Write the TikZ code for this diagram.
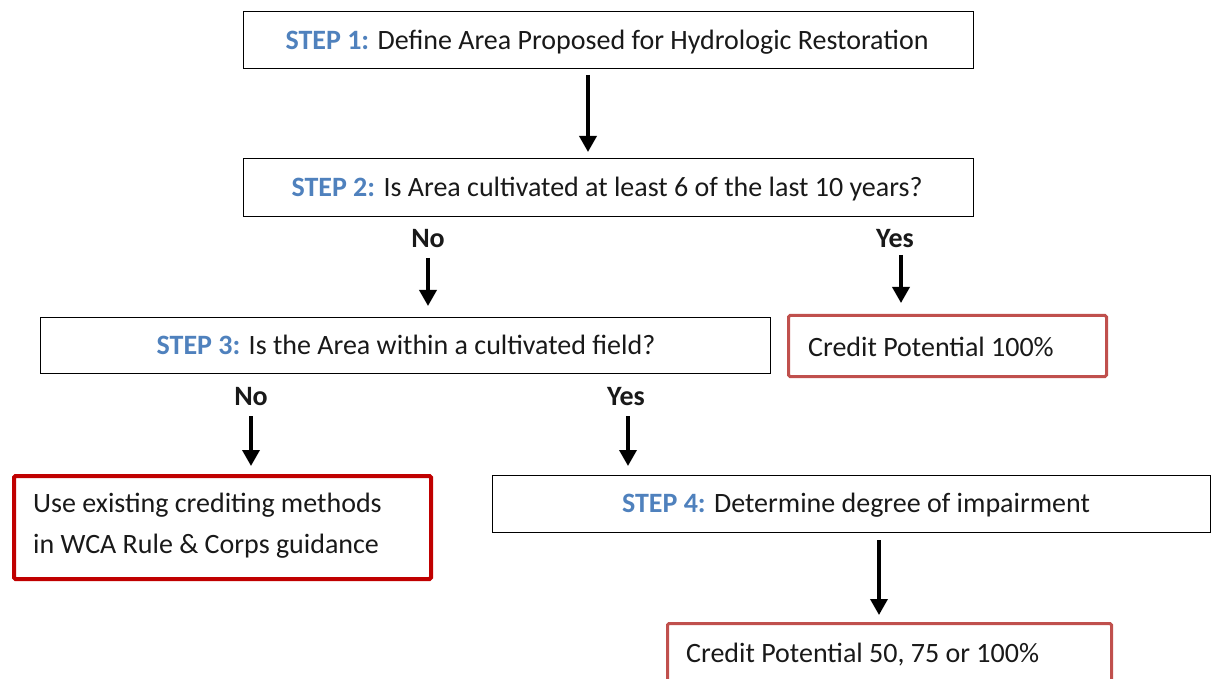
\documentclass[tikz,border=0pt]{standalone}
\usepackage{fontspec}
\setmainfont{Carlito}
\usetikzlibrary{arrows.meta}
\definecolor{stepblue}{HTML}{4F81BD}
\definecolor{softred}{HTML}{C0504D}
\definecolor{darkred}{HTML}{C00000}
\newcommand{\steplab}[1]{{\bfseries\color{stepblue}#1}}
\tikzset{
  x=1pt, y=-1pt,
  every node/.style={font=\fontsize{28}{34}\selectfont, inner sep=0pt, text=black!90},
  stepbox/.style={draw=black, line width=0.8pt, anchor=north west},
  redbox/.style={draw=softred, line width=3pt, rounded corners=1.5pt, anchor=north west},
  dredbox/.style={draw=darkred, line width=4pt, rounded corners=1.5pt, anchor=north west},
  lbl/.style={font=\fontsize{28}{34}\selectfont\bfseries},
  flow/.style={line width=3.5pt, -{Triangle[width=17pt,length=16pt]}},
}
\begin{document}
\begin{tikzpicture}
\useasboundingbox (0,0) rectangle (1211,679);
% boxes
\node[stepbox, minimum width=730pt, minimum height=57pt] (b1) at (243,11) {};
\node at (607,42) (t1) {\steplab{STEP 1:} Define Area Proposed for Hydrologic Restoration};
\node[stepbox, minimum width=730pt, minimum height=58pt] (b2) at (243,158) {};
\node at (607,189) (t2) {\steplab{STEP 2:} Is Area cultivated at least 6 of the last 10 years?};
\node[stepbox, minimum width=730pt, minimum height=56pt] (b3) at (40,317) {};
\node at (406,345) (t3) {\steplab{STEP 3:} Is the Area within a cultivated field?};
\node[redbox, minimum width=318pt, minimum height=61pt] (c1) at (787,314) {};
\node[anchor=west] (tc1) at (808,347) {Credit Potential 100\%};
\node[dredbox, minimum width=417pt, minimum height=103pt] (w) at (12,474) {};
\node[anchor=west] (tw1) at (33,505) {Use existing crediting methods};
\node[anchor=west] (tw2) at (33,546) {in WCA Rule \& Corps guidance};
\node[stepbox, minimum width=718pt, minimum height=57pt] (b4) at (492,475) {};
\node at (856,505) (t4) {\steplab{STEP 4:} Determine degree of impairment};
\node[redbox, minimum width=444pt, minimum height=70pt] (c2) at (666,622) {};
\node[anchor=west] (tc2) at (686,655) {Credit Potential 50, 75 or 100\%};
% labels
\node[lbl] (no1) at (428,239) {No};
\node[lbl] (yes1) at (895,239) {Yes};
\node[lbl] (no2) at (251,397) {No};
\node[lbl] (yes2) at (626,397) {Yes};
% arrows
\coordinate (a1s) at (588,75);
\draw[flow, shorten >=6pt] (a1s) -- (a1s |- b2.north);
\coordinate (a2s) at (428,258);
\draw[flow, shorten >=11pt] (a2s) -- (a2s |- b3.north);
\coordinate (a3s) at (901,255);
\draw[flow, shorten >=11pt] (a3s) -- (a3s |- c1.north);
\coordinate (a4s) at (251,416);
\draw[flow, shorten >=8pt] (a4s) -- (a4s |- w.north);
\coordinate (a5s) at (628,416);
\draw[flow, shorten >=9pt] (a5s) -- (a5s |- b4.north);
\coordinate (a6s) at (879,540);
\draw[flow, shorten >=7pt] (a6s) -- (a6s |- c2.north);
\end{tikzpicture}
\end{document}
